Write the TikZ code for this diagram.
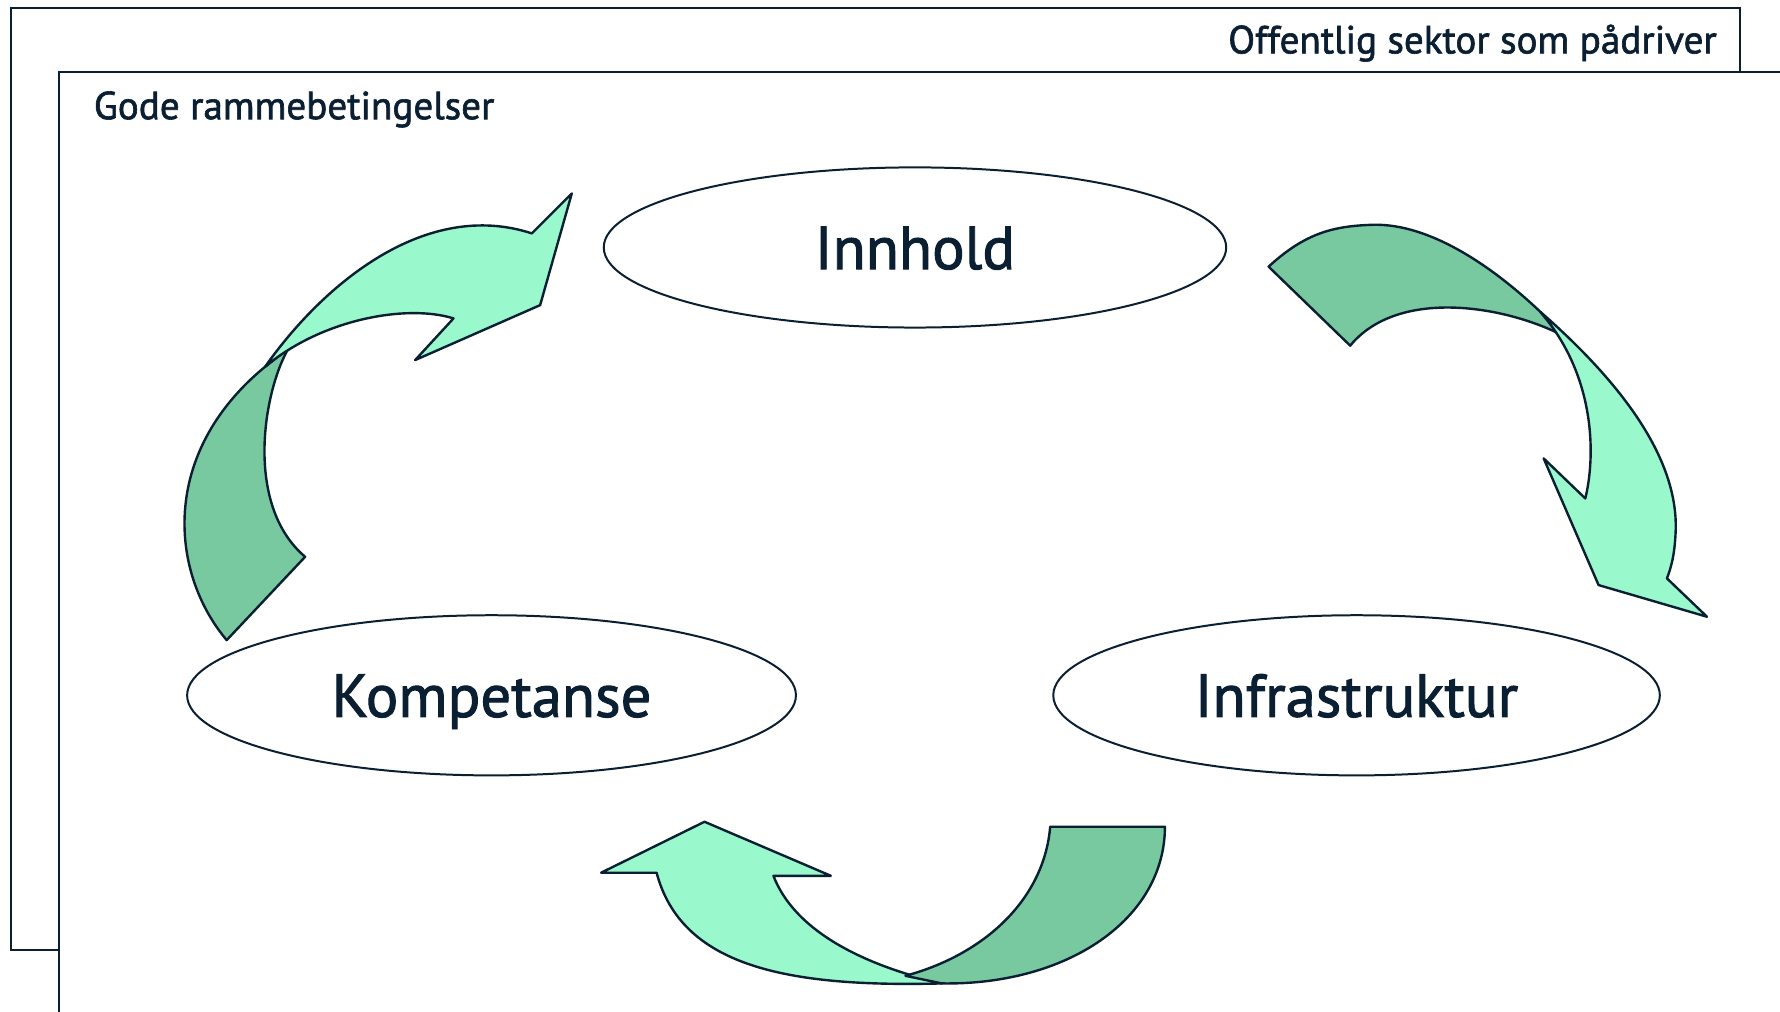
\documentclass[tikz,border=0pt]{standalone}
\usepackage{fontspec}
\setmainfont{PT Sans}[FakeBold=1.6]
\usetikzlibrary{shapes.geometric}
\definecolor{navy}{HTML}{0B1F33}
\definecolor{lightg}{HTML}{99F8CC}
\definecolor{darkg}{HTML}{78C8A0}
\begin{document}
\begin{tikzpicture}[x=0.01cm,y=-0.01cm,
  frame/.style={draw=navy, line width=0.5pt},
  oval/.style={ellipse, draw=navy, line width=0.5pt, minimum width=#1, minimum height=1.41cm,
    inner sep=0pt, text=navy, font=\fontsize{15.2}{18}\selectfont, text height=10.8pt, text depth=0pt},
  lightarrow/.style={fill=lightg, draw=navy, line width=0.6pt, line join=round},
  darkarrow/.style={fill=darkg, draw=navy, line width=0.6pt, line join=round},
  lbl/.style={text=navy, font=\fontsize{9.8}{11}\selectfont, inner sep=0pt}]
\useasboundingbox (0,0) rectangle (1568,891);
\clip (0,0) rectangle (1568,891);
% frames
\draw[frame] (10,7) rectangle (1533,837);
\fill[white] (52,63) rectangle (1600,920);
\draw[frame] (1600,63) -- (52,63) -- (52,920);
\node[lbl, anchor=base east] (sektor) at (1513,47) {Offentlig sektor som pådriver};
\node[lbl, anchor=base west] (ramme) at (82,105) {Gode rammebetingelser};
% ellipses
\node[oval=5.48cm] (innhold) at (806,218) {Innhold};
\node[oval=5.36cm] (kompetanse) at (433,612.5) {Kompetanse};
\node[oval=5.34cm] (infra) at (1195,612.5) {Infrastruktur};
% top-left arrow
\draw[darkarrow] (199.7,563.9) .. controls (150,505) and (140,400) .. (233.5,323.1)
  -- (254.1,306.9) .. controls (232,345) and (215,445) .. (268.8,490.5) -- cycle;
\draw[lightarrow] (233.5,323.1) .. controls (285,250) and (375,175) .. (468.5,205.6)
  -- (503.7,170.4) -- (475.8,268.8) -- (365.7,317.2) -- (399.5,280.5)
  .. controls (360,268) and (285,280) .. (233.5,323.1) -- cycle;
% top-right arrow
\draw[darkarrow] (1117.5,234.9) .. controls (1150,205) and (1175,199) .. (1210,198)
  .. controls (1260,197) and (1315,235) .. (1356.8,274.6)
  -- (1373.0,293.7) .. controls (1320,268) and (1230,255) .. (1189.4,304.5) -- cycle;
\draw[lightarrow] (1356.8,274.6) .. controls (1420,330) and (1480,400) .. (1476,470)
  .. controls (1475,490) and (1472,500) .. (1468.4,509.5)
  -- (1503.7,543.3) -- (1408.2,515.4) -- (1359.8,403.8) -- (1396.5,439.1)
  .. controls (1406,400) and (1405,330) .. (1356.8,274.6) -- cycle;
% bottom arrow
\draw[lightarrow] (578.4,768.8) -- (529.5,768.8) -- (620.6,723.9) -- (731.9,771.5) -- (681.3,771.5)
  .. controls (700,820) and (760,850) .. (829.7,866.3)
  .. controls (690,870) and (600,850) .. (578.4,768.8) -- cycle;
\draw[darkarrow] (797.6,859.6) .. controls (870,840) and (920,790) .. (925.1,728.3)
  -- (1026.2,728.3) .. controls (1026,810) and (940,868) .. (829.7,866.3) -- cycle;
\end{tikzpicture}
\end{document}
